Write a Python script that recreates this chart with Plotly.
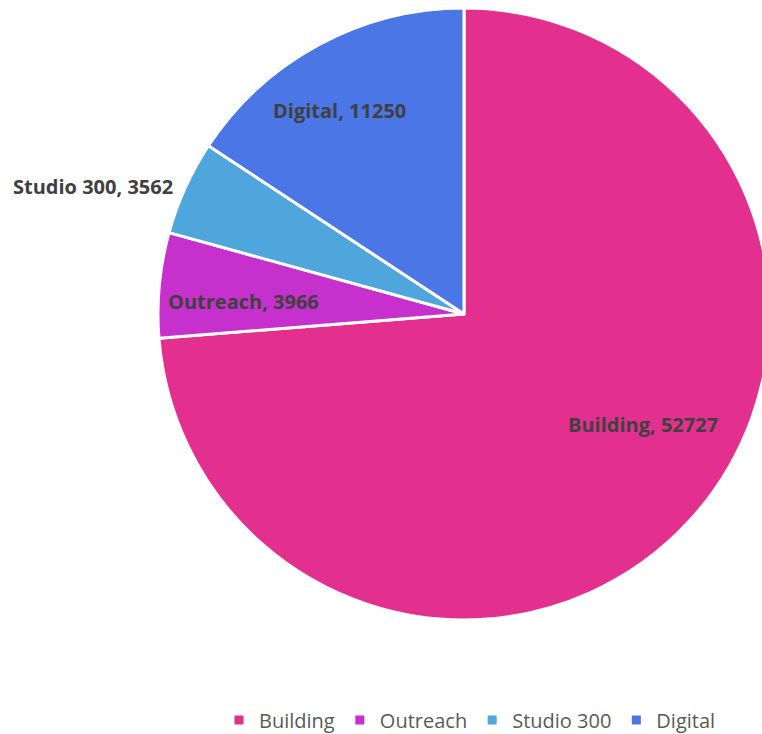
import plotly.graph_objects as go

categories = ["Building", "Outreach", "Studio 300", "Digital"]
values = [52727, 3966, 3562, 11250]
colors = ["#E3308F", "#C630CC", "#4EA6DC", "#4A76E6"]
# label anchor positions (paper coords) for data labels
label_x = [643, 243, 93, 339]
label_y = [425, 301, 187, 110]

W, H = 780, 734
cx, cy, r = 464, 314, 306

fig = go.Figure(go.Pie(
    labels=categories,
    values=values,
    marker=dict(colors=colors, line=dict(color="white", width=3)),
    sort=False,
    direction="clockwise",
    rotation=0,
    textinfo="none",
    hoverinfo="label+value",
    domain=dict(x=[(cx - r) / W, (cx + r) / W],
                y=[(H - cy - r) / H, (H - cy + r) / H]),
))

for cat, val, lx, ly in zip(categories, values, label_x, label_y):
    fig.add_annotation(
        x=lx / W, y=1 - ly / H, xref="paper", yref="paper",
        text=f"<b>{cat}, {val}</b>", showarrow=False,
        font=dict(family="'Open Sans', sans-serif", size=20, color="#404040"),
        xanchor="center", yanchor="middle",
    )

fig.update_layout(
    width=W, height=H,
    margin=dict(l=0, r=0, t=0, b=0, autoexpand=False),
    paper_bgcolor="white",
    plot_bgcolor="white",
    showlegend=True,
    legend=dict(
        orientation="h", x=470 / W, xanchor="center", y=-0.0075, yanchor="bottom",
        font=dict(family="'Open Sans', sans-serif", size=20, color="#595959"),
        traceorder="normal", itemwidth=30,
    ),
)

fig.write_html("out.html",
               post_script="document.body.style.overflow='hidden';document.documentElement.style.overflow='hidden';")
